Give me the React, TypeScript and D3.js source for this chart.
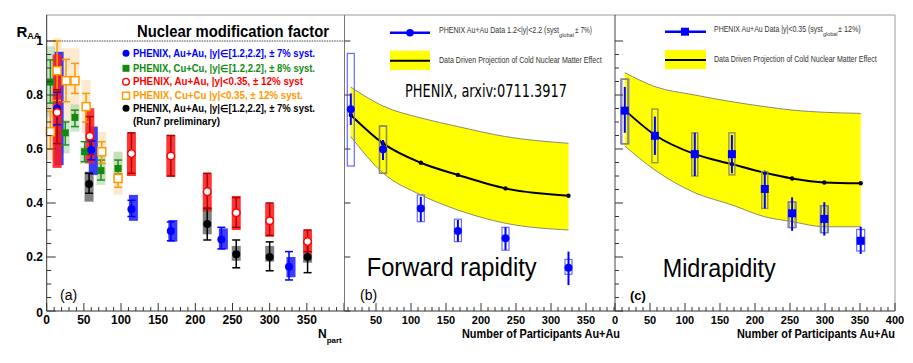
import React from 'react';
import * as d3 from 'd3';

// ── panel (a): compilation of R_AA vs Npart ──────────────────────────
const redN = [14, 58, 114, 167, 216, 255, 300, 351];
const redV = [0.735, 0.647, 0.583, 0.574, 0.442, 0.364, 0.334, 0.257];
const redErr = [[0.62, 0.82], [0.58, 0.72], [0.51, 0.66], [0.5, 0.65], [0.38, 0.51], [0.31, 0.42], [0.28, 0.4], [0.22, 0.3]];
const redSys = [[0.53, 0.95], [0.547, 0.751], [0.5, 0.66], [0.497, 0.652], [0.368, 0.51], [0.3, 0.426], [0.275, 0.399], [0.214, 0.3]];

const blueN = [14, 60, 114, 167, 235, 326];
const blueV = [0.75, 0.596, 0.377, 0.296, 0.265, 0.164];
const blueErr = [[0.69, 0.81], [0.56, 0.63], [0.35, 0.41], [0.26, 0.33], [0.23, 0.31], [0.115, 0.22]];
const blueSys = [[0.54, 0.96], [0.504, 0.683], [0.334, 0.43], [0.257, 0.337], [0.228, 0.306], [0.125, 0.2]];

const blackN = [57, 216, 255, 300, 351];
const blackV = [0.47, 0.322, 0.21, 0.2, 0.2];
const blackErr = [[0.436, 0.51], [0.263, 0.38], [0.16, 0.263], [0.149, 0.256], [0.142, 0.253]];
const blackSys = [[0.405, 0.516], [0.284, 0.377], [0.186, 0.241], [0.183, 0.241], [0.179, 0.216]];

const greenN = [5, 25, 38, 51, 73, 96];
const greenV = [0.848, 0.66, 0.717, 0.59, 0.52, 0.528];
const greenErr = [[0.77, 0.93], [0.615, 0.7], [0.683, 0.744], [0.553, 0.627], [0.485, 0.559], [0.507, 0.559]];
const greenSys = [[0.72, 0.98], [0.584, 0.707], [0.664, 0.765], [0.545, 0.61], [0.467, 0.574], [0.5, 0.59]];

const orangeN = [5, 14, 26, 38, 53, 74, 96];
const orangeV = [0.664, 0.89, 0.853, 0.853, 0.757, 0.59, 0.491];
const orangeErr = [[0.6, 0.74], [0.78, 1.0], [0.775, 0.932], [0.806, 0.917], [0.7, 0.806], [0.547, 0.627], [0.458, 0.528]];
const orangeSys = [[0.56, 0.8], [0.76, 1.01], [0.7, 0.973], [0.72, 0.973], [0.66, 0.856], [0.485, 0.664], [0.43, 0.59]];

const legendA = [
  'PHENIX, Au+Au, |y|\u2208[1.2,2.2], \u00b1 7% syst.',
  'PHENIX, Cu+Cu, |y|\u2208[1.2,2.2], \u00b1 8% syst.',
  'PHENIX, Au+Au, |y|<0.35, \u00b1 12% syst',
  'PHENIX, Cu+Cu |y|<0.35, \u00b1 12% syst.',
  'PHENIX, Au+Au, |y|\u2208[1.2,2.2], \u00b1 7% syst.',
];

// ── panel (b): forward rapidity ─────────────────────────────────────
const fwdN = [14, 60, 114, 167, 235, 325];
const fwdV = [0.747, 0.599, 0.38, 0.296, 0.269, 0.16];
const fwdErr = [[0.689, 0.806], [0.559, 0.633], [0.331, 0.423], [0.257, 0.337], [0.226, 0.31], [0.096, 0.22]];
const fwdSys = [[0.537, 0.954], [0.51, 0.685], [0.331, 0.43], [0.257, 0.34], [0.225, 0.31], [0.136, 0.191]];
const fwdBandHi = [0.829, 0.759, 0.715, 0.683, 0.646, 0.621];
const fwdBandLo = [0.646, 0.511, 0.43, 0.374, 0.325, 0.3];
const fwdCurve = [0.726, 0.621, 0.549, 0.504, 0.454, 0.427];

// ── panel (c): midrapidity ──────────────────────────────────────────
const midN = [14, 57, 114, 167, 214, 253, 299, 351];
const midV = [0.742, 0.649, 0.581, 0.581, 0.452, 0.362, 0.341, 0.26];
const midErr = [[0.66, 0.83], [0.578, 0.72], [0.5, 0.66], [0.51, 0.652], [0.38, 0.516], [0.297, 0.421], [0.279, 0.403], [0.211, 0.312]];
const midSys = [[0.619, 0.859], [0.549, 0.748], [0.5, 0.66], [0.504, 0.66], [0.38, 0.516], [0.309, 0.404], [0.29, 0.39], [0.222, 0.302]];
const midBandHi = [0.883, 0.831, 0.8, 0.775, 0.757, 0.744, 0.736, 0.732];
const midBandLo = [0.611, 0.522, 0.438, 0.393, 0.349, 0.331, 0.312, 0.312];
const midCurve = [0.744, 0.652, 0.581, 0.544, 0.512, 0.491, 0.476, 0.473];

const ticksA = [0, 50, 100, 150, 200, 250, 300, 350];
const ticksB = [50, 100, 150, 200, 250, 300, 350];
const ticksC = [0, 50, 100, 150, 200, 250, 300, 350, 400];
const ticksY = ['0', '0.2', '0.4', '0.6', '0.8', '1'];

const FONT = 'Liberation Sans, Arial, sans-serif';

// scales
const y = d3.scaleLinear().domain([0, 1]).range([311, 41]);
const xa = d3.scaleLinear().domain([0, 400]).range([46.7, 344]);
const xb = d3.scaleLinear().domain([0, 400]).range([341, 621]);
const xc = d3.scaleLinear().domain([0, 400]).range([615, 895]);

type Pt = { n: number; v: number; lo: number; hi: number; sLo: number; sHi: number };
const zip = (n: number[], v: number[], e: number[][], s: number[][]): Pt[] =>
  n.map((d, i) => ({ n: d, v: v[i], lo: e[i][0], hi: e[i][1], sLo: s[i][0], sHi: s[i][1] }));

const red = zip(redN, redV, redErr, redSys);
const blue = zip(blueN, blueV, blueErr, blueSys);
const black = zip(blackN, blackV, blackErr, blackSys);
const green = zip(greenN, greenV, greenErr, greenSys);
const orange = zip(orangeN, orangeV, orangeErr, orangeSys);
const fwd = zip(fwdN, fwdV, fwdErr, fwdSys);
const mid = zip(midN, midV, midErr, midSys);

type Sc = d3.ScaleLinear<number, number>;

const Boxes = ({ data, x, w, fill, opacity = 1, stroke = 'none', sw = 1 }: any) => (
  <g>
    {data.map((d: Pt, i: number) => (
      <rect key={i} x={x(d.n) - w / 2} y={y(d.sHi)} width={w} height={y(d.sLo) - y(d.sHi)}
        fill={fill} fillOpacity={opacity} stroke={stroke} strokeWidth={sw} />
    ))}
  </g>
);

const Bars = ({ data, x, color, cap = 4, sw = 1.5 }: any) => (
  <g stroke={color} strokeWidth={sw}>
    {data.map((d: Pt, i: number) => {
      const cx = x(d.n);
      return (
        <g key={i}>
          <line x1={cx} x2={cx} y1={y(d.hi)} y2={y(d.lo)} />
          {cap > 0 && <line x1={cx - cap} x2={cx + cap} y1={y(d.hi)} y2={y(d.hi)} />}
          {cap > 0 && <line x1={cx - cap} x2={cx + cap} y1={y(d.lo)} y2={y(d.lo)} />}
        </g>
      );
    })}
  </g>
);

const Circles = ({ data, x, r = 4, fill, stroke = 'none', sw = 1.5 }: any) => (
  <g>
    {data.map((d: Pt, i: number) => (
      <circle key={i} cx={x(d.n)} cy={y(d.v)} r={r} fill={fill} stroke={stroke} strokeWidth={sw} />
    ))}
  </g>
);

const Squares = ({ data, x, s = 7, fill, stroke = 'none', sw = 1.5 }: any) => (
  <g>
    {data.map((d: Pt, i: number) => (
      <rect key={i} x={x(d.n) - s / 2} y={y(d.v) - s / 2} width={s} height={s} fill={fill} stroke={stroke} strokeWidth={sw} />
    ))}
  </g>
);

// CNM projection band + central curve
const Band = ({ n, lo, hi, mid, x }: { n: number[]; lo: number[]; hi: number[]; mid: number[]; x: Sc }) => {
  const area = d3.area<number>().x((_, i) => x(n[i])).y0((_, i) => y(lo[i])).y1((_, i) => y(hi[i])).curve(d3.curveMonotoneX);
  const edge = (vals: number[]) => d3.line<number>().x((_, i) => x(n[i])).y((v) => y(v)).curve(d3.curveMonotoneX)(vals) as string;
  return (
    <g>
      <path d={area(n) as string} fill="#ffff00" />
      <path d={edge(hi)} fill="none" stroke="#8a8a70" strokeWidth={1} />
      <path d={edge(lo)} fill="none" stroke="#8a8a70" strokeWidth={1} />
      <path d={edge(mid)} fill="none" stroke="#000" strokeWidth={2} />
      {mid.map((v, i) => <circle key={i} cx={x(n[i])} cy={y(v)} r={2.2} fill="#000" />)}
    </g>
  );
};

const XTicks = ({ x, from, to }: { x: Sc; from: number; to: number }) => (
  <g stroke="#333" strokeWidth={1}>
    {d3.range(from, to + 1, 10).map((t) => (
      <line key={t} x1={x(t)} x2={x(t)} y1={311} y2={311 - (t % 50 === 0 ? 8 : 4)} />
    ))}
  </g>
);

const YTicks = ({ x0, minor = true, len = 9 }: { x0: number; minor?: boolean; len?: number }) => (
  <g stroke="#333" strokeWidth={1}>
    {d3.range(0, 21).filter((k) => minor || k % 4 === 0).map((k) => (
      <line key={k} x1={x0} x2={x0 + (k % 4 === 0 ? len : len / 2)} y1={y(k * 0.05)} y2={y(k * 0.05)} />
    ))}
  </g>
);

export default function App() {
  const legendColors = ['#0000ff', '#128a12', '#ff0000', '#ff9900', '#000000'];
  const legendY = [53.3, 68.3, 81.7, 95.7, 108.3];
  const legendLen = [182, 182, 170, 170, 182];
  return (
    <svg width={913} height={363} style={{ position: 'absolute', left: 0, top: 0, background: '#fff' }} fontFamily={FONT}>
      <rect width={913} height={363} fill="#fff" />

      {/* ── panel (a) ── */}
      <line x1={xa(0)} x2={xa(400)} y1={y(1)} y2={y(1)} stroke="#444" strokeDasharray="1.5,1" />
      <Boxes data={orange} x={xa} w={9} fill="#f7d9a8" opacity={0.55} />
      <Boxes data={green} x={xa} w={9} fill="#9fd39f" opacity={0.55} />
      <Boxes data={black} x={xa} w={9} fill="#606060" opacity={0.8} />
      <Boxes data={blue} x={(n: number) => xa(n) + 2} w={9} fill="#1a1aff" opacity={0.85} />
      <Boxes data={red} x={xa} w={9} fill="#ff1a1a" opacity={0.88} />
      <Bars data={green} x={xa} color="#1f8f1f" />
      <Bars data={orange} x={xa} color="#ff9900" />
      <Bars data={blue} x={xa} color="#0000ff" />
      <Bars data={black} x={xa} color="#000" />
      <Bars data={red} x={xa} color="#b00000" />
      <Squares data={green} x={xa} s={7} fill="#128a12" />
      <Squares data={orange} x={xa} s={8} fill="#fff" stroke="#ff9900" />
      <Circles data={blue} x={xa} fill="#0000ff" />
      <Circles data={black} x={xa} fill="#000" />
      <Circles data={red} x={xa} r={3.8} fill="#fff" stroke="#ff0000" />

      <text x={137} y={31} fontSize={16} fontWeight="bold" dominantBaseline="central" textLength={192} lengthAdjust="spacingAndGlyphs">Nuclear modification factor</text>
      {legendA.map((t, i) => (
        <text key={i} x={133} y={legendY[i]} fontSize={10} fontWeight="bold" fill={legendColors[i]} dominantBaseline="central"
          textLength={legendLen[i]} lengthAdjust="spacingAndGlyphs">{t}</text>
      ))}
      <text x={133} y={121.7} fontSize={10} fontWeight="bold" fill="#000" dominantBaseline="central" textLength={87} lengthAdjust="spacingAndGlyphs">(Run7 preliminary)</text>
      <circle cx={126} cy={legendY[0]} r={3.5} fill="#0000ff" />
      <rect x={122.5} y={legendY[1] - 3.5} width={7} height={7} fill="#128a12" />
      <circle cx={126} cy={legendY[2]} r={3.3} fill="#fff" stroke="#ff0000" strokeWidth={1.4} />
      <rect x={122.5} y={legendY[3] - 3.5} width={7} height={7} fill="#fff" stroke="#ff9900" strokeWidth={1.4} />
      <circle cx={126} cy={legendY[4]} r={3.5} fill="#000" />

      <YTicks x0={xa(0)} />
      <XTicks x={xa} from={0} to={400} />
      <line x1={xa(0)} x2={344} y1={15} y2={15} stroke="#999" />
      <line x1={xa(0)} x2={xa(0)} y1={15} y2={311} stroke="#333" />
      <line x1={xa(0)} x2={344} y1={311} y2={311} stroke="#333" />
      {ticksY.map((t, i) => (
        <text key={t} x={i === 0 ? 43 : 43} y={y(i * 0.2) + (i === 0 ? 2 : 0)} fontSize={12} fontWeight="bold" textAnchor="end" dominantBaseline="central">{t}</text>
      ))}
      {ticksA.map((t) => (
        <text key={t} x={xa(t) + (t === 0 ? 0 : 0)} y={320} fontSize={12} fontWeight="bold" textAnchor="middle" dominantBaseline="central">{t}</text>
      ))}
      <text x={16.5} y={37} fontSize={15} fontWeight="bold">R<tspan fontSize={9} dy={2}>AA</tspan></text>
      <text x={318} y={338} fontSize={12} fontWeight="bold">N<tspan fontSize={8} dy={5}>part</tspan></text>
      <text x={60} y={295} fontSize={14} dominantBaseline="central">(a)</text>

      {/* ── panel (b) ── */}
      <Band n={fwdN} lo={fwdBandLo} hi={fwdBandHi} mid={fwdCurve} x={xb} />
      <Boxes data={fwd} x={xb} w={7} fill="none" stroke="#6a6aff" sw={1.2} />
      <Boxes data={fwd.filter((d) => d.n === 60)} x={xb} w={7} fill="none" stroke="#8c8c60" sw={1.4} />
      <Bars data={fwd} x={xb} color="#0000ff" cap={0} sw={2} />
      <Circles data={fwd} x={xb} r={4} fill="#0000ff" />

      <line x1={390} x2={430} y1={32.7} y2={32.7} stroke="#0000ff" strokeWidth={2.5} />
      <circle cx={410} cy={32.7} r={3.8} fill="#0000ff" />
      <text x={439} y={30} fontSize={9} fill="#333" dominantBaseline="central" textLength={120} lengthAdjust="spacingAndGlyphs">PHENIX Au+Au Data 1.2&lt;|y|&lt;2.2 (syst</text>
      <text x={559} y={34.5} fontSize={6} fill="#333" dominantBaseline="central" textLength={15} lengthAdjust="spacingAndGlyphs">global</text>
      <text x={575} y={30} fontSize={9} fill="#333" dominantBaseline="central" textLength={17} lengthAdjust="spacingAndGlyphs">{'\u00b1 7%)'}</text>
      <rect x={390} y={50.7} width={40} height={19.3} fill="#ffff00" />
      <line x1={390} x2={430} y1={60.7} y2={60.7} stroke="#000" strokeWidth={2} />
      <text x={439} y={60} fontSize={9} fill="#333" dominantBaseline="central" textLength={162.7} lengthAdjust="spacingAndGlyphs">Data Driven Projection of Cold Nuclear Matter Effect</text>
      <text x={405} y={91} fontSize={17} fontFamily="DejaVu Sans, sans-serif" dominantBaseline="central" textLength={162} lengthAdjust="spacingAndGlyphs">PHENIX, arxiv:0711.3917</text>
      <text x={366.7} y={267} fontSize={25} dominantBaseline="central" textLength={170} lengthAdjust="spacingAndGlyphs">Forward rapidity</text>
      <text x={360} y={295} fontSize={14} dominantBaseline="central">(b)</text>

      <line x1={344} x2={615} y1={15} y2={15} stroke="#999" />
      <line x1={344.5} x2={344.5} y1={15} y2={311} stroke="#777" />
      <YTicks x0={344.5} minor={false} len={6} />
      <XTicks x={xb} from={10} to={390} />
      <line x1={344} x2={615} y1={311} y2={311} stroke="#333" />
      {ticksB.map((t) => (
        <text key={t} x={xb(t)} y={320} fontSize={11} fontWeight="bold" textAnchor="middle" dominantBaseline="central">{t}</text>
      ))}
      <text x={462} y={334} fontSize={12} fontWeight="bold" dominantBaseline="central" textLength={158} lengthAdjust="spacingAndGlyphs">Number of Participants Au+Au</text>

      {/* ── panel (c) ── */}
      <Band n={midN} lo={midBandLo} hi={midBandHi} mid={midCurve} x={xc} />
      <Boxes data={mid.filter((d) => d.n === 14 || d.n >= 253)} x={xc} w={8} fill="none" stroke="#6a6aff" sw={1.2} />
      <Boxes data={mid.filter((d) => d.n < 351)} x={xc} w={6} fill="none" stroke="#8c8c60" sw={1.3} />
      <Bars data={mid} x={xc} color="#0000ff" cap={0} sw={2} />
      <Squares data={mid} x={xc} s={8} fill="#0000ff" />

      <line x1={665} x2={706} y1={31.7} y2={31.7} stroke="#0000ff" strokeWidth={2.5} />
      <rect x={681} y={27.7} width={8} height={8} fill="#0000ff" />
      <text x={714} y={29.3} fontSize={9} fill="#333" dominantBaseline="central" textLength={108.7} lengthAdjust="spacingAndGlyphs">PHENIX Au+Au Data |y|&lt;0.35 (syst</text>
      <text x={823} y={34} fontSize={6} fill="#333" dominantBaseline="central" textLength={14.5} lengthAdjust="spacingAndGlyphs">global</text>
      <text x={838} y={29.3} fontSize={9} fill="#333" dominantBaseline="central" textLength={22.7} lengthAdjust="spacingAndGlyphs">{'\u00b1 12%)'}</text>
      <rect x={665} y={50} width={41} height={19} fill="#ffff00" />
      <line x1={665} x2={706} y1={60} y2={60} stroke="#000" strokeWidth={2} />
      <text x={714} y={59} fontSize={9} fill="#333" dominantBaseline="central" textLength={162.7} lengthAdjust="spacingAndGlyphs">Data Driven Projection of Cold Nuclear Matter Effect</text>
      <text x={662.7} y={268} fontSize={25} dominantBaseline="central" textLength={113} lengthAdjust="spacingAndGlyphs">Midrapidity</text>
      <text x={630} y={295} fontSize={13} fontWeight="bold" dominantBaseline="central">(c)</text>

      <line x1={615} x2={895} y1={15} y2={15} stroke="#999" />
      <line x1={895} x2={895} y1={15} y2={311} stroke="#999" />
      <line x1={615} x2={615} y1={15} y2={311} stroke="#444" />
      <YTicks x0={615} len={8} />
      <XTicks x={xc} from={0} to={400} />
      <line x1={615} x2={895} y1={311} y2={311} stroke="#333" />
      {ticksC.map((t) => (
        <text key={t} x={xc(t)} y={320} fontSize={11} fontWeight="bold" textAnchor="middle" dominantBaseline="central">{t}</text>
      ))}
      <text x={737} y={334} fontSize={12} fontWeight="bold" dominantBaseline="central" textLength={158} lengthAdjust="spacingAndGlyphs">Number of Participants Au+Au</text>
    </svg>
  );
}
